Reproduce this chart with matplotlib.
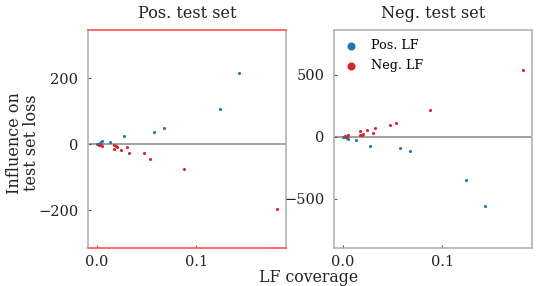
import numpy as np
import matplotlib
matplotlib.use("Agg")
import matplotlib.pyplot as plt

plt.rcParams.update({'font.family': 'DejaVu Serif'})

# coverage of each LF
pos_cov = [0.0, 0.001, 0.003, 0.0045, 0.0055, 0.0135, 0.0272, 0.0577, 0.067, 0.1238, 0.1424]
neg_cov = [0.181, 0.0873, 0.0536, 0.0468, 0.0324, 0.0306, 0.0245, 0.0206, 0.019, 0.0173,
           0.0168, 0.0055, 0.004, 0.002]

# influence on positive test set loss
pos_inf_pos = [0, 1, 3, 6, 10, 8, 24, 36, 48, 107, 217]
neg_inf_pos = [-197, -74, -46, -26, -28, -9, -18, -8, -6, -14, -3, -4, -3, -1]

# influence on negative test set loss
pos_inf_neg = [0, -2, -5, -12, -21, -27, -72, -91, -118, -349, -561]
neg_inf_neg = [538, 213, 108, 94, 70, 30, 54, 22, 14, 43, 14, 14, 8, 3]

titles = ["Pos. test set", "Neg. test set"]
blue, red = "#1f77b4", "#d62728"
spine_col = "#b4b4b4"

fig = plt.figure(figsize=(5.4, 2.86), dpi=100)
ax1 = fig.add_axes([88/540, 38/286, 198/540, 218/286])
ax2 = fig.add_axes([334/540, 38/286, 198/540, 218/286])

panels = [(ax1, pos_inf_pos, neg_inf_pos), (ax2, pos_inf_neg, neg_inf_neg)]
for i, (ax, yp, yn) in enumerate(panels):
    ax.axhline(0, color="#999999", lw=1.3, zorder=1)
    ax.scatter(pos_cov, yp, s=5, color=blue, label="Pos. LF", zorder=3, linewidths=0)
    ax.scatter(neg_cov, yn, s=5, color=red, label="Neg. LF", zorder=3, linewidths=0)
    allv = yp + yn
    ax.set_ylim(1.6 * min(allv), 1.6 * max(allv))
    ax.set_xticks([0.0, 0.1])
    ax.tick_params(direction='in', length=2.5, width=0.8, color="#555555",
                   labelsize=10.5, labelcolor="#222222", pad=7)
    ax.tick_params(axis='x', pad=5)
    for s in ax.spines.values():
        s.set_color(spine_col)
        s.set_linewidth(1.2)
    ax.set_title(titles[i], fontsize=11.6, pad=9, color="#222222")

ax1.set_yticks([-200, 0, 200])
ax2.set_yticks([-500, 0, 500])
ax1.spines['top'].set_color("#ff5050")
ax1.spines['bottom'].set_color("#ff5050")

ax2.legend(loc="upper left", bbox_to_anchor=(0.0, 0.975), frameon=False, markerscale=2.6,
           fontsize=9.2, handletextpad=0.6, borderaxespad=0.0, borderpad=0.3, labelspacing=0.55)

fig.text(0.572, 0.03, "LF coverage", ha="center", va="center", fontsize=11.3, color="#222222")
fig.text(0.043, 0.5, "Influence on\ntest set loss", ha="center", va="center",
         rotation=90, fontsize=11.5, color="#222222", linespacing=1.0)

fig.savefig("out.png", dpi=100)
